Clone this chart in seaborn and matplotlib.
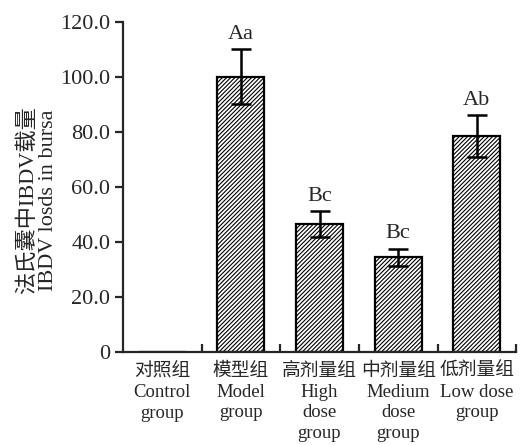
import numpy as np
import pandas as pd
import matplotlib
matplotlib.use("Agg")
import matplotlib.pyplot as plt
import seaborn as sns

# data
groups = ["对照组\nControl\ngroup", "模型组\nModel\ngroup", "高剂量组\nHigh\ndose\ngroup",
          "中剂量组\nMedium\ndose\ngroup", "低剂量组\nLow dose\ngroup"]
loads = [0.0, 100.0, 46.5, 34.5, 78.5]
errors = [0.0, 10.0, 4.7, 3.1, 7.5]
letters = ["", "Aa", "Bc", "Bc", "Ab"]
y_ticks = [0, 20, 40, 60, 80, 100, 120]
y_ticklabels = ["0", "20.0", "40.0", "60.0", "80.0", "100.0", "120.0"]

sns.set_style("ticks")
plt.rcParams["font.family"] = ["Liberation Serif", "Noto Sans CJK SC"]
plt.rcParams["hatch.linewidth"] = 0.8

df = pd.DataFrame({"group": groups, "load": loads})

fig = plt.figure(figsize=(5.23, 4.45), dpi=100)
ax = fig.add_axes([0.235, 0.209, 0.752, 0.742])

sns.barplot(data=df, x="group", y="load", color="white", edgecolor="black",
            linewidth=1.6, width=0.6, errorbar=None, ax=ax)
for p in ax.patches:
    p.set_hatch("////////")

for i, (v, e, t) in enumerate(zip(loads, errors, letters)):
    if e > 0:
        ax.errorbar(i, v, yerr=e, fmt="none", ecolor="black", elinewidth=1.8,
                    capsize=7, capthick=1.8)
    if t:
        ax.text(i, v + e + 2.0, t, ha="center", va="bottom", fontsize=16)

ax.set_xlim(-0.5, 4.5)
ax.set_ylim(0, 120)
ax.set_yticks(y_ticks)
ax.set_yticklabels(y_ticklabels, fontsize=16)
ax.tick_params(axis="y", direction="out", length=6, width=1.6, pad=3)
ax.tick_params(axis="x", which="major", length=0, pad=8, labelsize=13.5)
ax.set_xticks(np.arange(0.5, 5, 1), minor=True)
ax.tick_params(axis="x", which="minor", direction="in", length=6, width=1.6)
for lbl in ax.get_xticklabels():
    lbl.set_linespacing(1.27)

ax.set_xlabel("")
ax.set_ylabel("法氏囊中IBDV载量\nIBDV losds in bursa", fontsize=16,
              linespacing=1.05)
ax.yaxis.set_label_coords(-0.165, 0.46)

sns.despine(ax=ax)
ax.spines["left"].set_linewidth(1.6)
ax.spines["bottom"].set_linewidth(1.6)

fig.savefig("out.png", dpi=100)
